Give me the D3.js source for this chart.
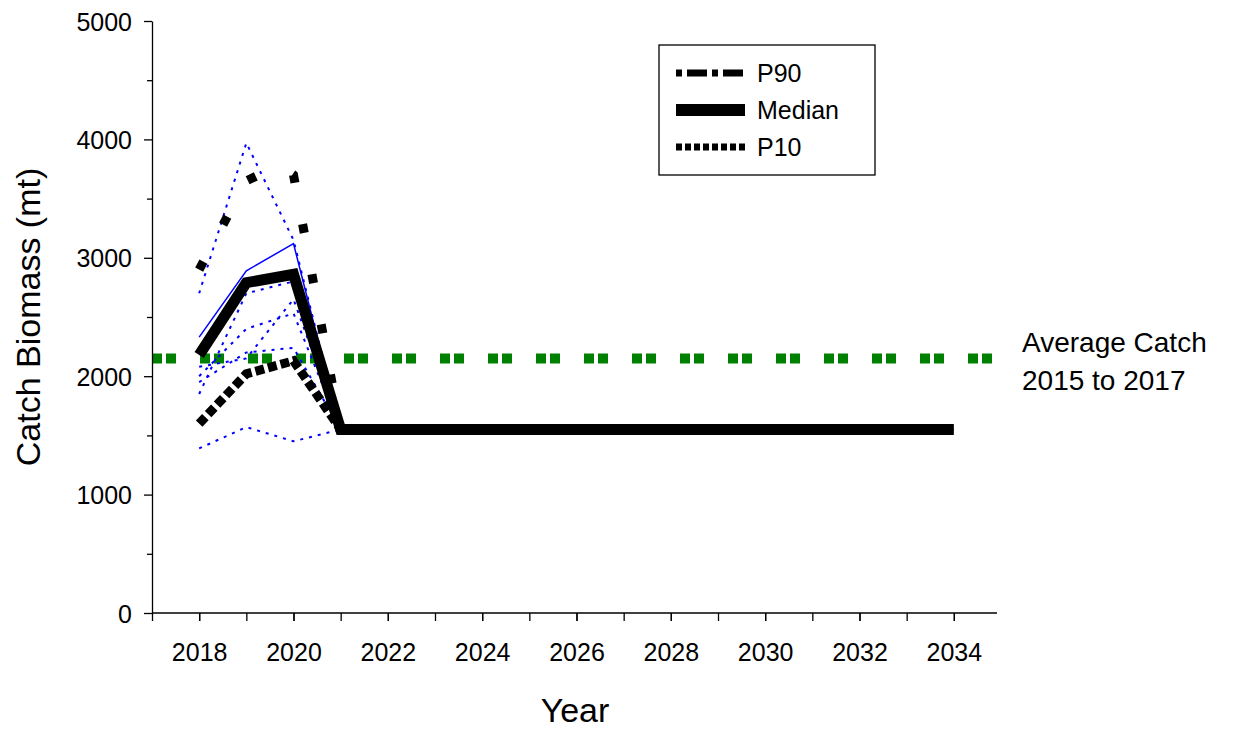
<!DOCTYPE html><html><head><script src="https://d3js.org/d3.v7.min.js"></script>
<style>body{margin:0;background:#fff}text{font-family:Arial,"Liberation Sans",sans-serif}</style></head><body>
<svg id="c" width="1249" height="730"></svg>
<script>
const years=d3.range(2018,2035);
const median=[2180,2790,2860,1550,1550,1550,1550,1550,1550,1550,1550,1550,1550,1550,1550,1550,1550];
const p90=[[2018,2900],[2019,3650],[2019.7,3780],[2020,3700],[2021,1550]];
const p10=[[2018,1600],[2019,2020],[2020,2130],[2021,1550]];
const blueSolid=[[2018,2330],[2019,2890],[2020,3120],[2021,1550]];
const blueDotted=[
 [[2018,1390],[2019,1570],[2020,1450],[2021,1550]],
 [[2018,1950],[2019,2200],[2020,2240],[2021,1550]],
 [[2018,2000],[2019,2400],[2020,2530],[2021,1550]],
 [[2018,2700],[2019,3970],[2020,3150],[2021,1550]],
 [[2018,1850],[2019,2700],[2020,2800],[2021,1550]],
 [[2018,2080],[2019,2150],[2020,2650],[2021,1550]],
 [[2021,1550],[2034,1550]]
];
const avgCatch=2150;
const svg=d3.select("#c");
const x=d3.scaleLinear().domain([2017,2035]).range([152,1001]);
const y=d3.scaleLinear().domain([0,5000]).range([613,21]);
const g=svg.append("g");
const xa=svg.append("g").attr("transform","translate(0,613)").call(d3.axisBottom(x).tickValues(d3.range(2018,2035,2)).tickFormat(d3.format("d")).tickSize(8).tickSizeOuter(0));
svg.append("g").attr("transform","translate(0,613)").call(d3.axisBottom(x).tickValues(d3.range(2017,2035,1)).tickFormat("").tickSize(8).tickSizeOuter(0)).select(".domain").remove();
xa.select(".domain").attr("d","M152,0H997");
const ya=svg.append("g").attr("transform","translate(152,0)").call(d3.axisLeft(y).tickValues(d3.range(0,5001,1000)).tickFormat(d3.format("d")).tickSize(8).tickSizeOuter(0));
svg.append("g").attr("transform","translate(152,0)").call(d3.axisLeft(y).tickValues(d3.range(500,5000,1000)).tickFormat("").tickSize(5).tickSizeOuter(0)).select(".domain").remove();
svg.selectAll(".tick text").style("font-size","25px").style("font-family","Arial, 'Liberation Sans', sans-serif").attr("fill","#000");
xa.selectAll(".tick text").attr("dy",null).attr("y",48);
ya.selectAll(".tick text").attr("x",-20).attr("dy","0.36em");
svg.selectAll(".domain,.tick line").attr("stroke","#000").attr("stroke-width",1.3);
const line=d3.line().x(d=>x(d[0])).y(d=>y(d[1]));
g.append("path").attr("d",line([[2017,avgCatch],[2035,avgCatch]])).attr("stroke","#008000").attr("stroke-width",10).attr("stroke-dasharray","10 4 10 24").attr("fill","none");
blueDotted.forEach(s=>g.append("path").attr("d",line(s)).attr("stroke","#0000ff").attr("stroke-width",2).attr("stroke-dasharray","3 6").attr("fill","none"));
g.append("path").attr("d",line(blueSolid)).attr("stroke","#0000ff").attr("stroke-width",1.5).attr("fill","none");
g.append("path").attr("d",line(p10)).attr("stroke","#000").attr("stroke-width",9).attr("stroke-dasharray","9 4").attr("fill","none");
g.append("path").attr("d",line(p90)).attr("stroke","#000").attr("stroke-width",9).attr("stroke-dasharray","9 42").attr("fill","none");
g.append("path").attr("d",line(years.map((yr,i)=>[yr,median[i]]))).attr("stroke","#000").attr("stroke-width",11).attr("fill","none");
const L=svg.append("g");
L.append("rect").attr("x",659).attr("y",45).attr("width",216).attr("height",130).attr("fill","#fff").attr("stroke","#000").attr("stroke-width",1.3);
const items=[["P90","6 5 20 5"],["Median",null],["P10","6 3"]];
items.forEach((it,i)=>{const yy=73+i*37;
 L.append("line").attr("x1",676).attr("x2",745).attr("y1",yy).attr("y2",yy).attr("stroke","#000").attr("stroke-width",it[1]?7:12).attr("stroke-dasharray",it[1]);
 L.append("text").attr("x",757).attr("y",yy+9).attr("font-size",25).text(it[0]);});
svg.append("text").attr("x",1022).attr("y",352).attr("font-size",28).text("Average Catch");
svg.append("text").attr("x",1022).attr("y",390).attr("font-size",28).text("2015 to 2017");
svg.append("text").attr("transform","translate(40,317) rotate(-90)").attr("text-anchor","middle").attr("font-size",34).text("Catch Biomass (mt)");
svg.append("text").attr("x",575).attr("y",722).attr("text-anchor","middle").attr("font-size",34).text("Year");
</script></body></html>
